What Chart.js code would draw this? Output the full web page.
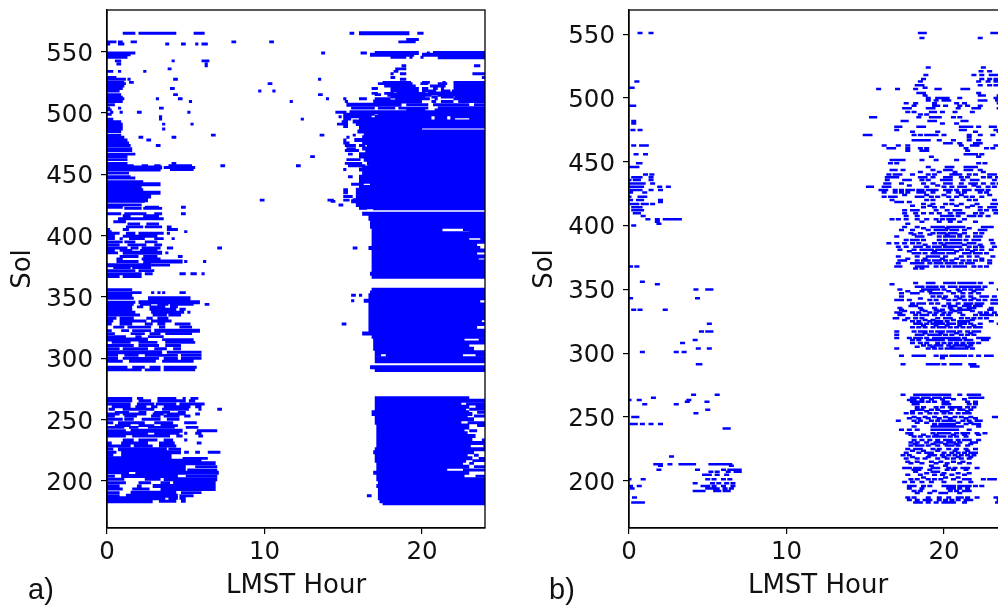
<!DOCTYPE html>
<html><head><meta charset="utf-8">
<style>
html,body{margin:0;padding:0;width:998px;height:612px;overflow:hidden;background:#fff}
canvas{position:absolute;top:0}
.tag{position:absolute;top:573px;font:29px "Liberation Sans",sans-serif;color:#111}
</style>
<script src="https://cdn.jsdelivr.net/npm/chart.js@4"></script>
</head><body>
<div style="position:absolute;left:0;top:0;width:495px;height:604px"><canvas id="a"></canvas></div>
<div style="position:absolute;left:522px;top:0;width:500px;height:604px"><canvas id="b"></canvas></div>
<div class="tag" style="left:28px">a)</div>
<div class="tag" style="left:549px">b)</div>
<script>
const xTicks=[0,10,20];
const yTicksA=[200,250,300,350,400,450,500,550];
const yTicksB=[200,250,300,350,400,450,500,550];
const xTitle='LMST Hour', yTitle='Sol';
// Panel a: [sol, start, end, start, end, ...] in LMST hours
const rowsA=[
[565,1,1.8,2,4.4,5.5,6.2,15.4,15.7,16,19.2,19.7,20.1],[560,19,19.8],
[558,0,.6,.7,1,1.5,1.9,7.9,8.2,10.3,10.6,18.5,19.6],[556.3,0,.2,.7,1.1,3.7,3.95,4.7,5,5.6,5.8,6,6.4],
[549,0,1.8,13.6,13.85,16.1,16.5,17,19.8,20.3,20.5,20.7,24],[547.5,0,1.5,16.7,19.5,20,24],[545.5,0,1.3,18,19,19.2,19.4,19.9,20.1,21,24],
[542.5,.5,.9,4.1,4.3,6,6.5],[540,.6,.9,6.2,6.4],[538.5,6.2,6.4,18.7,19,23.3,23.7],[536,3.85,4.1,18.3,19],[534,0,.4,.7,.9,2.3,2.5,18.2,18.5],
[532,18,18.2,18.6,19,23.2,23.8,23.8,24],[529,0,.6,18,18.3,23.8,24],[527.5,0,1.2,1.3,1.5,4.2,4.5,13.4,13.6,18.6,19],
[525,0,1.1,1.4,1.7,17.5,19.3,20,20.5,21.3,21.5,22,24],[524,0,1.2,10.2,10.5,17.2,19.4,19.9,20.4,21,21.6,22,24],[522,0,1.1,17.6,19.6,20.5,21.5,22,24],
[520,0,1,4,4.3,16.8,17.2,18,19.8,20,20.4,20.7,21,21.2,21.4,22,24],[518,0,.8,9.6,9.8,10.5,10.7,18,19.8,20,20.9,21.2,21.8,21.9,24],
[516,16.8,17.2,17.6,18.2,18.4,20.2,20.4,24],[515,0,.9,4.2,4.5,13.4,13.7,17,17.4,17.8,20.6,21,24],[513,0,1,18,20.2,20.6,21,21.2,22,22.1,24],
[511.6,0,1.1,3.1,3.3,4.5,4.8,13.9,14.1,15,15.2,16,16.5,17,18,18.3,20.5,20.8,21,22,24],[509.4,0,1,5.2,5.4,11.6,11.8,15.1,15.3,16.9,20,20.6,20.9,21.2,22,22.3,24],
[506.7,0,.5,15.2,18.7,19,20.4,20.7,23,23.3,24],[504,0,.2,.7,.9,3.3,3.6,15.5,17,17.2,18.3,18.5,20.4,21,24],[502.6,0,.3,19,20.2,20.8,21.8,22,24],
[500.7,.2,.4,.8,1,1.9,2.2,5.1,5.3,14.5,15.2,15.4,24],[499,0,.3,15,17,17.2,24],[497,3.3,3.5,14.7,14.9,15,16.8,17,20.6,20.8,21.6,21.8,24],
[495,0,.4,3.3,3.5,12.3,12.5,15,15.5,16,20.6,20.8,21.6,21.8,22.1,23,24],[493,0,.9,14.9,15.3,15.6,24],[491,0,1,3.5,3.7,5.3,5.5,14.6,15.3,15.8,24],
[489,0,1,15,15.3,16,24],[487,0,1,3.5,3.7,16,20],[485,0,.9,15.9,24],[482,0,.9,6.6,6.9,13.5,13.8,15.6,15.8,16.3,24],
[480.3,0,1.1,2,2.3,4.1,4.4,15.2,15.4,16.2,24],[478,0,1.3,2.5,2.8,15,15.2,15.7,24],[475.6,0,1.4,15,15.4,16.2,24],[473.5,0,1.5,3.1,3.4,15.1,15.8,16,16.4,16.5,24],
[471,0,1.6,15.2,15.8,16.2,24],[469.4,0,1.6,15.1,16,16.4,24],[466.5,0,1.8,15.3,15.6,16,24],[464.5,0,1.3,12.9,13.2,16,24],[462,0,1.3,15.2,16.1,16.3,24],
[459,0,1.3,4.1,4.4,15.1,16.2,16.5,24],[457,0,1.7,2.2,2.6,3,3.4,3.9,5.4,7.2,7.5,12,12.3,15.3,16.4,16.6,24],[455.6,0,3.5,3.6,5.6,16.2,24],[454,0,3.4,4,5.5,15,15.2,16,24],
[451,0,1.4,16.2,24],[448,0,1.5,15.3,15.6,16,24],[447,0,1.8,16,24],[444,0,2.3,16,24],[442,0,3.4,15.5,16.3,16.7,24],[439.6,0,2.2,16,24],[437.4,0,2.3,15,15.3,15.8,24],
[435,0,3.4,15,15.3,15.8,24],[432,0,2.8,15,15.6,15.8,24],[429,0,2.6,9.7,10,14,14.4,15,15.4,15.6,24],[428,0,2.4,14.2,14.5,15.5,24],[425,0,2.2,14.7,15,15.8,24],
[423.2,0,1,2.4,3.3,4.7,5,16,24],[422.3,1.1,2.2,2.3,3.5,16,16.5,16.9,24],[417.9,0,.9,1.1,2.5,3,3.5,4.7,5,16.2,24],[416.3,1,1.5,2.3,3.3,16.6,24],[413.8,.7,2.6,2.6,3.6,16.6,24],
[411.4,.4,1.2,16.7,24],[409.6,1.3,2.1,2.5,3.3,16.7,24],[407.2,1.2,2.3,2.4,3.5,3.8,4.1,16.7,24],[405,0,.2,1,1.4,3.8,4.5,16.8,21.3,22.6,24],[403.3,0,.3,4.9,5.1,16.8,21.2,23,24],
[402,0,.8,1.2,1.8,2,3.6,3.8,4,16.8,24],[399.5,0,.5,1,3.2,16.8,24],[397.6,0,.5,.8,1,1.4,2.4,3,3.6,4.1,4.3,16.8,23,23.7,24],[395,0,1,1.1,1.8,2.4,3.2,16.8,24],
[392.5,0,.8,1.3,2.5,3,3.5,16.8,23.5],[390,0,1.3,1.5,2,2.2,3.4,3.8,4.2,7,7.3,15.6,15.9,16.6,23.7],[388,0,.5,.8,1.6,2.1,3.2,16.8,24],[386,0,.7,1,3.5,3.7,3.9,16.8,23.5],
[383,.8,2,2.3,3.2,4.5,4.8,16.8,24],[381,.6,1,2.2,3.4,16.8,23.6],[379,.6,2,2.3,4.8,4.9,5.1,6.1,6.3,16.8,24],[376,0,2.8,2.8,4,16.8,24],[374,.4,1.5,1.6,2.8,16.8,24],
[371.5,0,1.8,2,3,16.8,24],[369,0,2.2,2.4,2.9,4.6,5,5.3,5.7,6,6.2,16.7,24],[366.6,0,.8,1,2.2,16.8,24],
[356,0,1.6,16.8,24],[353.6,0,2.2,2.8,3,3.2,3.4,3.5,3.7,4.6,5,16.7,24],[351.5,0,1.6,15.5,15.8,16,16.2,16.6,24],[349,0,1.7,2.6,5.3,16.6,24],[347,15.5,15.7,16.3,23.5],
[345.7,0,1.8,2,5.9,16.6,23.7],[344,0,1.7,2.1,2.8,3.2,3.9,4,5.5,6.2,6.5,16.6,24],[342,0,1.6,1.9,2.3,2.7,3.7,4,4.5,16.6,24],[340,0,1.6,2.7,4.4,4.6,5,16.6,24],
[337.6,0,1.8,2.8,4.9,5.1,5.3,16.6,24],[335.4,0,2.1,2.9,3.8,3.9,4.7,16.6,24],[332.7,0,.6,.8,1.7,2.5,2.9,3.2,3.9,16.6,24],[330.5,0,.4,.8,2.5,2.8,4.1,16.6,23.8],
[328,0,.3,.8,1.6,2.4,2.9,3.2,3.7,4.3,5.3,14.9,15.2,16.6,24],[325.5,.4,1.1,1.3,2.8,3.3,3.7,4.6,5.4,16.6,23.5],[322.6,0,.3,.9,1.4,1.6,2.8,3,5.9,16.6,24],[320.2,0,.5,1.5,2.4,2.7,3.4,3.7,5.4,16.2,24],
[317.7,0,1.2,1.8,2.2,2.6,3.6,16.8,24],[315.3,0,2.6,3.5,5.5,16.9,22.7,23.6,24],[313,.3,1.5,2,3.2,3.7,5.6,16.9,24],[310.5,0,1.7,2,3.3,3.7,4.7,16.9,23],[307.8,0,.8,1,2.6,3,3.8,4.2,4.7,16.9,23.3],
[305,0,3.5,3.8,6,17,24],[302.4,0,.7,1.1,2,2.4,4.5,4.7,6,17,17.4,17.7,22.6,23.4,24],[300,0,.7,1,3.3,3.6,4.5,4.7,6,17,24],[297.6,0,1,1.4,3.1,3.5,5.5,17,24],
[292.8,0,1.3,1.6,2.4,2.7,3.4,3.6,5.7,16.7,24],[290.6,0,2.2,2.4,3.4,3.6,5.6,17,24],
[267.4,0,1.6,1.9,2.3,3.2,4.4,4.8,5,5.3,5.8,17,23],[265.5,0,1.6,2,2.8,3.2,5,5.2,5.6,17,24],[262.8,0,1.5,1.9,3,3.1,4.4,4.6,6.2,17,22.5,22.8,24],[260.6,.3,1.5,1.8,2.5,2.8,3.2,3.6,5.3,5.6,6,17,23,23.4,24],
[258.5,.1,.5,1,3,3.5,5.2,5.8,6,7,7.3,17,22.8,23,24],[256,.5,1.4,2,2.5,3,4,4.5,5,16.8,23,23.5,24],[254.6,0,.8,1,2.5,2.9,3.6,3.8,5,5.6,5.9,16.8,23.2],[253,0,.5,1.1,1.9,2.8,3.4,3.6,4.6,4.9,5.3,17,22.9,23.3,24],
[250.4,0,1,1.1,1.7,2.2,3.4,3.8,4.6,17,23.3],[247.5,0,.4,.7,2.4,3,4.2,4.9,5.7,17,22.5,22.9,24],[245.2,.5,1.5,2,3,3.4,4.5,17.1,23,23.5,24],[243.7,0,1.1,1.4,2,2.6,4.3,5,5.8,17.1,23],
[241,0,1.2,1.5,4.8,5.7,7,17.1,22.7,23,23.5],[239,0,2.6,3,4.6,4.9,5.1,5.6,6,17.1,22.9],[236.7,0,1.2,1.6,4,4.4,4.8,5.8,6.1,17.1,23.4],[233.4,1,1.7,2,3.2,3.6,4.2,4.9,5.1,17.1,23.2,23.8,24],
[231,0,.3,.9,2.6,3.3,4.3,5.7,6,17.1,24],[228.5,0,1.5,1.7,2.9,3.3,4.4,17.1,23.1,23.9,24],[226,0,.4,.7,3.8,3.9,4.7,17,24],[223.5,0,.6,.9,4.7,4.9,5.2,5.6,5.9,6.4,7.2,16.9,23.3],
[221,0,.4,.9,4.1,17,22.9,23.3,23.6],[218.5,0,4.1,4.8,6.4,17,23.2,23.6,24],[216.6,0,6,17,22.8,23.2,24],[214.4,0,6.9,17.1,22.6,23,23.3],[211.7,0,5,5.6,7,17.1,23,23.3,24],
[209,0,5,5.1,7,17.1,21.6,22.6,24],[206.8,0,1.4,1.8,7.1,16.9,23],[204,0,.5,.9,4.5,5,7,17.1,22.7,23.4,24],[201.4,0,1.1,2.4,3.4,3.6,7,17.1,24],[198.6,0,1.2,2,2.8,3.4,4,4.2,6.9,17.2,24],
[196,0,.8,1.9,2.2,2.9,6.9,17.1,24],[193.5,0,1,1.6,2.7,3.4,6.9,17.2,24],[190.5,0,.8,1.5,4.4,4.7,6,17.2,24],[188,0,.8,1.2,4.5,4.6,5.5,16.5,16.8,17.2,24],[186,0,3.7,3.9,4.5,4.6,5,17.2,24],[183.5,0,2.9,3.3,4.4,4.7,5,17.3,24],[181.8,17.5,24]
];
// Panel b: [sol, hour, hour, ...]
const rowsB=[
[551,.7,1.4,18.5,18.75,23.1,23.4],[547,18.6,22.3],[524,19,22.5],[521,22.35,22.9],[518,18.85,21.9,22.4,23,23.3],[515,18.7,22.4,22.9,23.3],[513,.5,18.5,22.2,22.8,23.3],[510,18.3,18.6,22.3,22.9,23.3],[508,.1,.2,18.8],
[507,15.85,17.05,18.2,19.55,19.7,21.2,21.5],[504,18.4,18.7,22.2],[502,18.8,22.3,22.5,23.5],[500,19,19.6,19.9,20.2,21,23.3,23.5],[498,19,19.5,20,20.3,22.3,22.6,23.4],[496,17.6,18.2,19.4,20.8,21.3,23.5],
[494,.1,.3,18.1,19.4,19.6,20.1,21,21.5,22.3],[492,17.5,17.8,19,19.3,20.9,21.9,22.2,23.5],[489,17.7,18.1,19.2,19.4,19.9,20.7,21.8],[487,18.5,18.9],[485,15.4,15.6,18.4,19.2,19.5,19.7,20.6,21],
[482,.3,17.4,17.6,19.1,19.4,21.2,21.4],[480,.3,19.9,20.8],[477.5,17,17.2,18.4,18.7,21.1,21.4,21.7,22.2,23,23.2],[475,.25,.7,17,21.1,21.3,23.3],[473.6,18,19.6,22,23.5],
[471,15,15.3,18.1,18.5,18.9,19.2,19.5,20,21.6,22.3,23.1],[469,21.6],[467,18.1,18.4,18.7,19,19.7,20.6,21.6,22.2],[464.5,20.1,20.4,21,22,22.3],[462.7,.3,.8,1.1,16.2,17.1,17.7,21.1,21.8,22.1,23.3,23.5],
[460.6,16.5,16.8,17.7,18.5,18.9,21.4,22.7,23.1],[458.7,17.7,18.6,18.9,21.5],[456,.45,1.05,21.4,21.7,22,22.4],[454,19.2,22.2],[451.4,16.7,16.9,17.2,17.4,18.6,19.5,20.8],[448.8,.6,.7,16.6,17,22.2,22.6],
[446,.1,.3,.5,19,20.2,20.5,21.4,21.7,22],[443.6,16.7,16.9,17.4,19.3,20.1,20.4,21.4,21.7,22.3],[440,1.05,1.45,16.5,16.9,17.2,18,19,19.4,20.5,20.8,21,21.6,22,22.9,23.2],
[438,.3,.5,.7,1.4,16.4,16.7,17,18.5,18.8,19.3,20.1,20.4,21.1,21.5,22.5,22.9,23.4],[435.8,0,.4,.6,1.4,16.4,17.5,17.8,18.6,19,19.9,20.2,20.4,21.2,21.8,22.1,23.2],
[433,.1,.4,.6,.9,1.5,16.3,16.5,17.3,18.7,19.3,20.1,20.4,21.1,21.7,22,22.5,23.1,23.5],[430.5,.1,.3,.5,.8,1.95,2.5,15.2,15.4,16.2,16.5,18.9,20,20.5,21,21.3,22.2,22.8,23.2],
[428,.2,.5,.7,1.4,2,16,16.3,16.9,17.3,17.7,18,18.4,18.6,19,19.2,19.5,20.1,20.4,20.8,21.3,21.6,22.1,22.4,22.8],[426,.1,1,16.2,16.9,17.3,17.7,18.4,18.7,19.3,20.3,20.9,21.3,22.3,22.7],
[422.7,0,.7,1,16.2,16.6,16.9,18.3,18.6,19.2,19.6,20.3,20.8,21.4,21.8,22.4],[420,.1,.6,.8,2,16.7,18.9,19.3,20.5,21.6,22,23.2],[418.6,2,17,17.3,17.8],[417,.2,.5,.9,1.1,1.5,18.7,19.3,20.1,20.5,21.1,22.1,23.1,23.4],
[414.4,.3,.5,.7,18.7,19.4,19.9,21.5,22.3,22.9,23.2],[412,.3,.5,.8,17.5,18,18.3,19.5,20.2,20.7,21,22.3,22.7,23.2,23.5],[409.6,.4,.6,17.5,18.2,18.7,19.2,19.7,20.4,20.9,21.2,22,22.4,23.3],[407.5,.9,17.6,18.3,19.9,20.2,20.5,20.9,21.6,21.9,22.3,22.8],
[405,1.2,1.8,2.3,2.6,2.9,3.2,16.7,17.1,17.6,18.3,18.9,19.5,19.9,20.3,20.6,21.3],[403,1.8],[401.5,1.9,17.7],[400,.3],
[399,17.5,18.3,19.3,19.6,19.9,20.3,20.6,20.9,21.2,22.5,22.8,23],[396.6,17.3,18,19,19.5,19.8,20.1,20.5,20.8,21.3,22.3,22.6],[394,17.9,18.5,19.3,19.7,20,20.4,20.7,21.3,22,22.4],[391.4,17,18.3,18.6,19.7,20.1,20.4,20.6,21,21.5,22,22.3],
[388.8,17.6,18,18.3,18.7,19.7,20.1,20.5,20.7,21,21.4,21.9,22.2,23],[386.2,16.5,17,17.5,18,18.4,19.4,19.8,20.2,20.4,20.7,21,21.6,21.9,23.1],[383.5,17.1,17.6,18.2,18.5,19,19.4,19.7,20.1,20.4,20.7,21,21.6,22,22.4,23.2],
[381,17.2,18.1,18.6,18.9,19.2,19.6,19.9,20.2,20.5,21.1,21.5,22,22.4,23],[378.3,18.1,18.4,18.8,19.3,19.6,19.9,20.3,20.6,21.3,21.6,22,22.3,22.7],[375.7,17.1,18.3,19,19.3,19.6,20.1,21.1,21.6,22.1,23.1],
[372.6,17.2,17.5,18.3,18.7,19,19.4,19.7,20.1,20.5,21.2,21.6,22,22.4,22.9],[370.5,17.1,18,18.3,18.6,19.1,19.5,19.8,20.2,20.4,20.7,21.1,21.5,21.8,22.9],[368,0,.1,.5,17,17.2,18.3,18.6,18.9,19.5,19.9,20.3,20.7,21,21.3,21.9,22.3,22.7],[366.4,18.2,18.6],
[356,.85],[355,18.2,19,19.3,20.1,20.3,20.6,21,21.3,21.6,21.9,22.3,23],[354,1.8,16.7],[352,18.3,18.6,19,19.3,19.5,19.9,20.4,20.7,21.1,21.4,21.6,21.9,22.2,22.6],[350,4.25,5,5.2,17.2,18.7,19,19.3,19.6,20,20.9,21.3,21.7,22.1,22.4,23.5],
[347,17.3,18,18.3,19.2,19.5,19.8,20.6,21.2,21.7,22.2],[344.4,17.3,19.3,19.7,20.1,20.8,21.2,21.7,22.4,22.7,23.2],[343,.1,4.35],[341.8,17,17.3,17.8,19.1,19.5,20.3,20.7,21.3,21.7,22.2,22.6,23.1,23.4],
[339,18,18.4,18.7,19.2,19.6,20.3,20.9,21.4,21.7,22.1,22.4,23.1,23.4],[337,17.9,18.2,20,20.4,20.7,21.3,21.6,22,22.3],[335.5,17.2,18.5,19.4,20.4,21,21.6,21.9,23],[334,.3,.7,2.3,17.3,18.6,19.5,19.9,20.5,21,21.3,21.6,22.9,23],
[332,17,17.2,18,18.4,19.1,19.5,20,20.4,21,22.3,22.7,23.2],[330,17.2,17.4,18.2,18.6,18.9,19.4,19.9,20.3,21.2,22,22.4,22.7,23,23.4],[327.4,16.9,17,17.7,18.2,18.6,19.6,20.1,20.4,21.1,21.5,21.9,22.3,22.7],
[325,18,18.4,19.1,19.5,19.8,20.2,21,21.2,21.5,23],[323,5.1,18.2,18.5,18.9,19.3,19.6,19.9,20.3,20.6,21,21.3,21.7,22.3,23.5],[320.4,18,18.4,18.8,19.3,19.7,20,20.4,20.8,21.2,21.6,22,22.3],
[317,4.6,5,5.2,17,18.1,18.5,18.8,19.2,19.6,19.9,20.3,20.6,21,21.5,21.9,22.2],[314.4,17,18.3,18.6,19.1,19.4,19.7,20.1,20.5,21.1,21.5,21.9],[312,17,17.8,18.2,18.5,18.9,19.4,19.7,20,20.3,20.6,20.9,21.3,22.2,22.5,22.8],
[310.4,4.2,18,18.4,19,19.3,19.6,19.9,20.4,20.7,21,21.4,21.7,22.5,22.7],[308,3.4,18,18.5,18.9,19.6,20,20.4,20.8,21.2,21.6,21.8,22.2],[306,18.7,19.1,19.5,19.8,20.3,20.7,21,21.3,21.7],[303.6,4.4,5.1,17,19,19.4,19.8,20.2,20.5,20.8,21.1,21.4,21.8],
[301,.85,3,3.5],[298,17.3,18.1,18.4,18.7,19.5,19.9,20.1,20.5,20.8,21,21.3,21.7,22.2,22.7,23],[296,19.9],[291.4,4.4,4.5,17.4,19,19.3,19.6,20,20.5,20.8,21,21.7,21.9],[289.5,21.8,22.1],
[267.4,4.1,5.6,17.4,18.2,18.5,18.8,19.1,19.4,19.7,20,20.3,21,21.6,21.9,22.2],[265,1.55,18,18.3,18.7,19,19.4,19.7,20.1,20.3,21.7,21.9,22.1,22.4],[263.4,0,.65,3.8,17.8],[262,3.7,4.95,18,18.3,18.6,19,19.4,20,20.2,21.5,22],
[260,1,3,18.1,18.3,20,20.3,21.6,22],[257.7,18.3,18.7,19.5,19.9,20.4,20.7,21,21.5,21.9],[255.6,5,18.3,18.6,19.2,19.6,20.5,21,21.2,21.7],[253,4.25,17.6,18,18.5,19.1,19.5,20,20.4,20.9,21.3,21.6],
[250,.3,.5,18.1,18.8,19.4,20.1,20.7,21.1,21.7,23.2,23.5],[247,17.1,18.1,18.5,19.2,19.6,20,20.3,20.6,21.2,21.6,22.1,22.3],[244.6,.2,.4,.85,1.4,2,19.4,19.8,20,20.3,20.6,21.4,21.9,22.2],[242.5,18.1,19.3,19.6,19.9,20.2,20.5,20.8,21.1,22.2],
[241,6.1,6.3],[240,17.3,17.8,18.3,19.3,19.6,19.9,20.2,20.5,20.8,21.6],[237.3,17.7,17.9,19.3,19.7,20,20.3,20.8,21.2,21.5,22.1,22.6],[234.7,18.1,18.5,19,19.4,19.7,20,20.4,20.8,21.4],[232,18.1,18.6,19.1,19.6,20.1,20.4,20.9,21.3,21.6,22.2],
[230,17.9,18.3,18.9,19.5,19.8,20.3,20.6,21,21.8,22],[227.7,17.9,18.3,18.6,19,19.6,20.2,20.5,20.9,21.5],[225,17.7,18.2,18.5,19.3,19.7,20.3,20.8,21.4,22],[222,17.6,18.4,18.9,19.2,20,20.5,20.9,21.3,21.7,22],
[220,17.4,17.8,19.1,19.4,19.9,20.3,20.7,21.1,21.5,21.9],[219,2.7],[217.5,17.6,18.3,18.8,19.6,20.2,20.6,21.1,21.6],[215,17.7,18.3,19.2,19.8,20.6,21.2],[213,1.7,2,2.6,3.3,3.5,3.8,4.1,5.2,5.5,5.8,6.1,6.4],
[211.7,2,6.5,19.2,20.1],[210,17.5,17.8,18.2,18.5,19.3,19.6,20.3,20.7,21.2,21.5,22.1],[208.6,1.9,4.35,6,6.4,6.7,7,18.1,18.4,19.1,20.2,20.6,21.4],[207,5.2,5.6,6.3,6.8,7,18.2,19.3,19.6],[204.7,4.8,5.1,5.6,6.2,17.7,18.5,19.4,19.9,20.5,21.3],
[201.3,0,.9,5,5.4,6,6.4,17.9,18.3,19,19.4,19.8,20.6,21.3,21.6,22.5,22.9,23.2],[199,17.5,18,18.6,19.2,20,21,21.7],[198,4.2,5.3,5.7,6.2,6.6],[196,.1,.65,4.7,5,5.4,6,6.6,17.8,18.1,18.7,19.1,20,20.3,20.6,21,21.3,21.6,22,22.4],
[194,.2,5,5.3,5.6,6.1,6.5,17.8,18.6,20.3,20.6,21,21.5],[192,4.2,4.5,4.7,5.5,5.7,6.1,6.3,18.1,18.5,19.4,20.4,20.8,21.3,21.6],[187,.35,17.7,18.1,19,19.7,20.3,20.9,21.1,21.5,22.1,23.3,23.4],
[185,17.8,18.3,18.8,19.1,19.7,20.1,20.5,20.9,21.4,21.7,23.5],[183,.3,.5,.7,.85,18.2,18.5,19,19.5,20,20.3,20.6,21.3,23.4],
[264,18.1,18.6,19.2,19.9,20.6,21.3],[254.5,18,18.9,19.9,20.2,21.5],[249,17.8,18.4,19,19.7,20.4,21.4,22],[245.5,18.3,18.9,20.9,21.7],[236,17.9,18.7,19.5,20.6,21.3,22.2],[228.8,18.2,19.3,20.1,20.8,21.7],[223.5,18,18.7,19.6,20.7,21.5],
[218.7,18,19,20,20.9,21.7],[213.8,17.9,18.6,19.5,20.2,21,21.6],[206,18.9,20,20.9,21.6],[202.5,18.7,20.1,20.9],[190.5,18.3,19.1,19.8,20.1,21],
[348.5,17.7,18.6,19.1,20.3,21,21.9],[342.8,18.5,20,21,21.9],[333,17.5,18.8,19.7,20.7,21.8],[326,17.5,18.8,19.3,20.6,21.8],[321.7,18.7,19.5,20.2,21,21.9],[315.7,18.8,19.8,20.8,21.7],[305,18.3,19.3,20.5,21.5],
[442,18.5,19.7,20.7,22.5],[431.5,17.8,19.6,21.9],[424,17.5,18.9,20,21.1,22.9],[415.5,18,19.1,20.8,21.8],[403,18.6,19.7,20.4,21,22],[398,18.7,20.2,21.6],[393,18.1,19.1,20.2,21],[385,18.8,20,21.3,22.3],[380,17.8,19.4,20.8,21.8],[374,17.7,18.8,19.9,20.8,22.4]
];
const dashHalf=0.16;
const longSpan=2.5;
const yLabelShift=2.5;
const BLUE='#0000ff';
function spansToPoints(rows,isLong){const out=[];for(const r of rows){for(let i=1;i+1<r.length;i+=2){if((r[i+1]-r[i]>=longSpan)===isLong){out.push({x:r[i],y:r[0]},{x:r[i+1],y:r[0]},{x:null,y:null});}}}return out;}
function dashesToPoints(rows){const out=[];for(const r of rows){for(let i=1;i<r.length;i++){out.push({x:r[i]-dashHalf,y:r[0]},{x:r[i]+dashHalf,y:r[0]},{x:null,y:null});}}return out;}
const frame={id:'frame',
 beforeDraw(c){const items=c.scales.y.getLabelItems();if(!items._shifted){items._shifted=true;for(const it of items){const t=it.options.translation;it.options.translation=[t[0],t[1]+yLabelShift];}}},
 afterDraw(c){const a=c.chartArea,g=c.ctx;g.save();g.strokeStyle='#000';g.lineWidth=1.3;g.strokeRect(a.left,a.top,a.right-a.left,a.bottom-a.top);g.restore();}};
function series(points,w){return {data:points,showLine:true,spanGaps:false,pointRadius:0,borderColor:BLUE,backgroundColor:BLUE,borderWidth:w,borderCapStyle:'butt',tension:0};}
function make(id,datasets,ymin,ymax,yticks,padRight){
 new Chart(document.getElementById(id),{type:'scatter',
  data:{datasets},
  plugins:[frame],
  options:{responsive:true,maintainAspectRatio:false,animation:false,devicePixelRatio:1,
   layout:{padding:{top:10,right:padRight,left:0,bottom:0}},
   plugins:{legend:{display:false},tooltip:{enabled:false}},
   scales:{
    x:{type:'linear',min:0,max:24,afterFit(s){s.height=76;s.paddingLeft=0;s.paddingRight=0;},afterBuildTicks(s){s.ticks=xTicks.map(v=>({value:v}));},
     grid:{drawOnChartArea:false,drawTicks:true,tickLength:6,color:'#000',lineWidth:1.2},border:{color:'#000',width:1.3},
     ticks:{color:'#111',font:{family:'DejaVu Sans',size:24.5},maxRotation:0,padding:4},
     title:{display:true,text:xTitle,color:'#111',font:{family:'DejaVu Sans',size:26},padding:{top:0,bottom:2}}},
    y:{type:'linear',min:ymin,max:ymax,afterFit(s){s.width=107;s.paddingTop=0;s.paddingBottom=0;},afterBuildTicks(s){s.ticks=yticks.map(v=>({value:v}));},
     grid:{drawOnChartArea:false,drawTicks:true,tickLength:6,color:'#000',lineWidth:1.2},border:{color:'#000',width:1.3},
     ticks:{color:'#111',font:{family:'DejaVu Sans',size:24.5},padding:8},
     title:{display:true,text:yTitle,color:'#111',font:{family:'DejaVu Sans',size:26},padding:{top:8,bottom:0}}}
   }}});
}
make('a',[series(spansToPoints(rowsA,false),2.9),series(spansToPoints(rowsA,true),4)],161.7,584,yTicksA,10);
make('b',[series(dashesToPoints(rowsB),2.5)],163,569,yTicksB,15);
</script>
</body></html>
